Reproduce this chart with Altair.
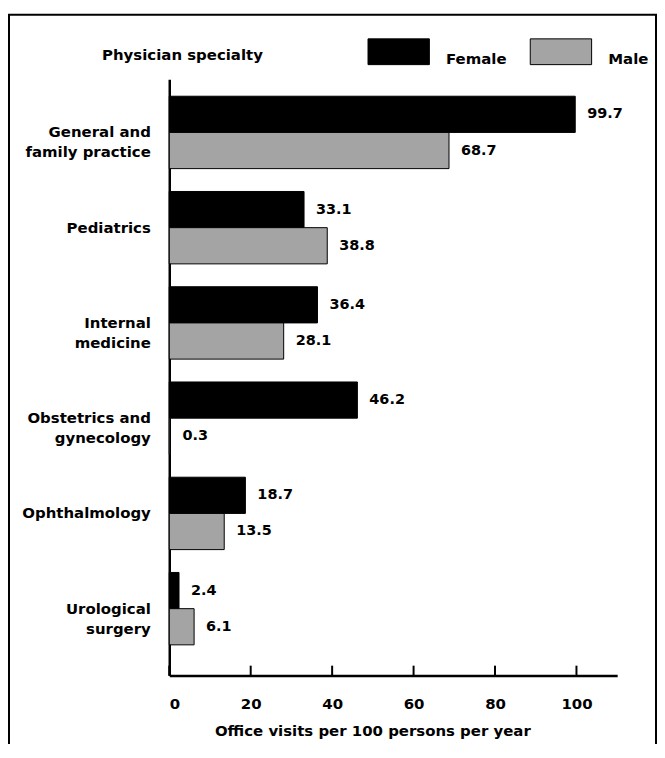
import altair as alt
import pandas as pd

# ---- data ----
specialties = [
    "General and|family practice",
    "Pediatrics",
    "Internal|medicine",
    "Obstetrics and|gynecology",
    "Ophthalmology",
    "Urological|surgery",
]
female = [99.7, 33.1, 36.4, 46.2, 18.7, 2.4]
male = [68.7, 38.8, 28.1, 0.3, 13.5, 6.1]
sexes = ["Female", "Male"]
x_ticks = [0, 20, 40, 60, 80, 100]

rows = []
for s, f, m in zip(specialties, female, male):
    rows.append({"specialty": s, "sex": "Female", "value": f})
    rows.append({"specialty": s, "sex": "Male", "value": m})
df = pd.DataFrame(rows)
ticks_df = pd.DataFrame({"value": x_ticks})

FONT = "DejaVu Sans"
W, H = 450, 599

x_scale = alt.Scale(domain=[0, 110], nice=False, zero=True)
y_scale = alt.Scale(paddingInner=0.24, paddingOuter=0.25, align=0.354)
off_scale = alt.Scale(paddingInner=0, paddingOuter=0)

x_enc = alt.X(
    "value:Q",
    scale=x_scale,
    axis=alt.Axis(
        values=x_ticks,
        ticks=False,
        tickSize=0,
        grid=False,
        labelPadding=21,
        labelFont=FONT,
        labelFontSize=15,
        labelFontWeight="bold",
        labelColor="black",
        domainColor="black",
        domainWidth=2.5,
        title="Office visits per 100 persons per year",
        titleFont=FONT,
        titleFontSize=15,
        titleFontWeight="bold",
        titleColor="black",
        titleX=204,
        titleY=60,
        titleAlign="center",
        titleBaseline="alphabetic",
        titleAnchor="start",
    ),
)
y_enc = alt.Y(
    "specialty:N",
    sort=specialties,
    scale=y_scale,
    axis=alt.Axis(
        title="Physician specialty",
        titleAngle=0,
        titleAlign="left",
        titleBaseline="alphabetic",
        titleX=-68,
        titleY=-20,
        titleFont=FONT,
        titleFontSize=15,
        titleFontWeight="bold",
        titleColor="black",
        ticks=False,
        tickSize=0,
        labelExpr="split(datum.label, '|')",
        labelPadding=19,
        labelLineHeight=20,
        labelLimit=250,
        labelFont=FONT,
        labelFontSize=15,
        labelFontWeight="bold",
        labelColor="black",
        labelAlign="right",
        labelBaseline="middle",
        domainColor="black",
        domainWidth=2.5,
    ),
)
off_enc = alt.YOffset("sex:N", sort=sexes, scale=off_scale)

base = alt.Chart(df)

bars = base.mark_bar(stroke="black", strokeWidth=1).encode(
    x=x_enc,
    y=y_enc,
    yOffset=off_enc,
    color=alt.Color(
        "sex:N",
        sort=sexes,
        scale=alt.Scale(domain=sexes, range=["#000000", "#a4a4a4"]),
        legend=alt.Legend(
            title=None,
            orient="none",
            legendX=199,
            legendY=-59.5,
            direction="horizontal",
            symbolType="M-1,-0.42H1V0.42H-1Z",
            symbolSize=3800,
            symbolStrokeColor="black",
            symbolStrokeWidth=1,
            symbolOpacity=1,
            labelOffset=16,
            columnPadding=21,
            labelFont=FONT,
            labelFontSize=15,
            labelFontWeight="bold",
            labelColor="black",
            labelBaseline="top",
            padding=0,
        ),
    ),
)

labels = base.mark_text(
    align="left", baseline="middle", dx=12, font=FONT, fontSize=14.5,
    fontWeight="bold", color="black",
).encode(
    x="value:Q",
    y=alt.Y("specialty:N", sort=specialties),
    yOffset=off_enc,
    text=alt.Text("value:Q", format=".1f"),
)

tick_marks = alt.Chart(ticks_df).mark_rule(color="black", strokeWidth=2).encode(
    x="value:Q",
    y=alt.value(H - 10),
    y2=alt.value(H),
)

frame = alt.Chart(alt.Data(values=[{"f": 1}])).mark_rect(
    filled=False, stroke="black", strokeWidth=2
).encode(
    x=alt.value(-161),
    x2=alt.value(489),
    y=alt.value(-65),
    y2=alt.value(H + 120),
)

chart = (
    alt.layer(frame, bars, labels, tick_marks)
    .properties(
        width=W,
        height=H,
        autosize=alt.AutoSizeParams(type="none"),
        padding={"left": 162, "top": 70, "right": 40, "bottom": 67},
        background="white",
    )
    .configure_view(stroke=None)
)

chart.save("out.html", embed_options={"renderer": "svg", "actions": False})
